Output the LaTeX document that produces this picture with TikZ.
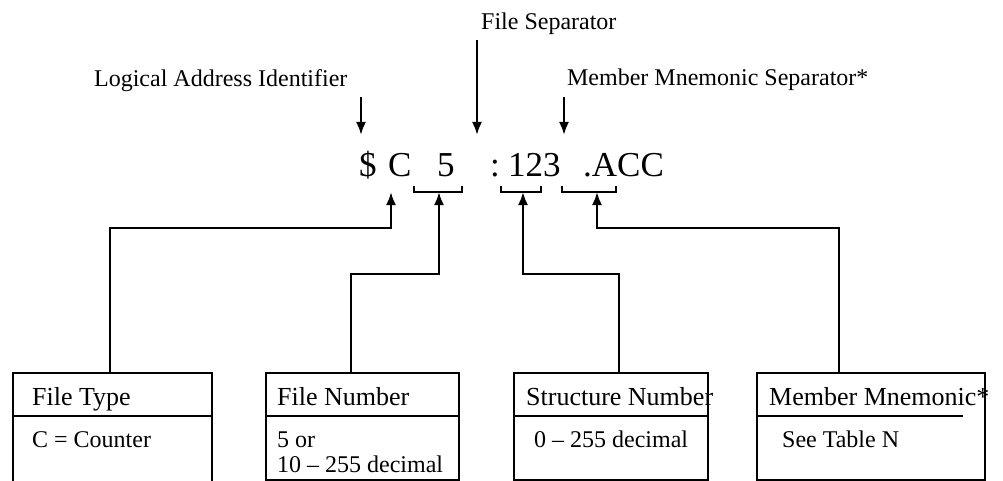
\documentclass[tikz,border=0pt]{standalone}
\usepackage{fontspec}
\setmainfont{Liberation Serif}
\usetikzlibrary{arrows.meta}
\begin{document}
\begin{tikzpicture}[x=1pt,y=-1pt,
  line width=2.3pt,
  lbl/.style={anchor=base west,inner sep=0pt,font=\fontsize{24}{28}\selectfont},
  big/.style={anchor=base west,inner sep=0pt,font=\fontsize{35}{40}\selectfont},
  hdr/.style={anchor=base west,inner sep=0pt,font=\fontsize{26}{30}\selectfont},
  body/.style={anchor=base west,inner sep=0pt,font=\fontsize{24}{28}\selectfont},
  box/.style={draw,line width=2.3pt,rectangle,inner sep=0pt,anchor=north west},
  arr/.style={-{Latex[length=13pt,width=10pt]},line width=2.3pt},
  brk/.style={line width=1.8pt},
]
\useasboundingbox (0,0) rectangle (1003,481);

% top labels
\node[lbl] (lai) at (93,87) {Logical Address Identifier};
\node[lbl] (fs) at (480,30) {File Separator};
\node[lbl] (mms) at (566,86) {Member Mnemonic Separator*};

\coordinate (a1s) at (361,97);  \coordinate (a1e) at (361,135);
\coordinate (a2s) at (477,40);  \coordinate (a2e) at (477,135);
\coordinate (a3s) at (564,97);  \coordinate (a3e) at (564,135);
\draw[arr] (a1s) -- (a1e);
\draw[arr] (a2s) -- (a2e);
\draw[arr] (a3s) -- (a3e);

% main text
\node[big] (dol) at (358,177) {\$};
\node[big] (cc) at (387,177) {C};
\node[big] (five) at (436,177) {5};
\node[big] (col) at (489,177) {:};
\node[big] (num) at (507,177) {123};
\node[big] (acc) at (582,177) {.ACC};

% brackets
\draw[brk] (414,186) -- (414,192) -- (462,192) -- (462,186);
\draw[brk] (501,186) -- (501,192) -- (541,192) -- (541,186);
\draw[brk] (562,186) -- (562,192) -- (616,192) -- (616,186);

\coordinate (t1) at (391,192);
\coordinate (t2) at (439,192);
\coordinate (t3) at (523,192);
\coordinate (t4) at (597,192);

% boxes
\node[box,minimum width=199pt,minimum height=113pt] (ft) at (12,372) {};
\node[box,minimum width=193pt,minimum height=107pt] (fn) at (265,372) {};
\node[box,minimum width=194pt,minimum height=107pt] (sn) at (513,372) {};
\node[box,minimum width=228pt,minimum height=107pt] (mm) at (756,372) {};

\draw (ft.west |- 0,416) -- (ft.east |- 0,416);
\draw (fn.west |- 0,416) -- (fn.east |- 0,416);
\draw (sn.west |- 0,416) -- (sn.east |- 0,416);
\draw (mm.west |- 0,416) -- (963,416);

\node[hdr] (ftH) at (31,405) {File Type};
\node[body] (ftB) at (31,447) {C = Counter};
\node[hdr] (fnH) at (276,405) {File Number};
\node[body] (fnB1) at (276,447) {5 or};
\node[body] (fnB2) at (276,472) {10 -- 255 decimal};
\node[hdr] (snH) at (525,405) {Structure Number};
\node[body] (snB) at (533,447) {0 -- 255 decimal};
\node[hdr] (mmH) at (768,405) {Member Mnemonic*};
\node[body] (mmB) at (781,447) {See Table N};

% connectors
\draw[arr] ([xshift=98pt]ft.north west) |- ([yshift=-36pt]t1) -- (t1);
\draw[arr] ([xshift=86pt]fn.north west) |- ([yshift=-82pt]t2) -- (t2);
\draw[arr] ([xshift=106pt]sn.north west) |- ([yshift=-82pt]t3) -- (t3);
\draw[arr] ([xshift=83pt]mm.north west) |- ([yshift=-36pt]t4) -- (t4);
\end{tikzpicture}
\end{document}
